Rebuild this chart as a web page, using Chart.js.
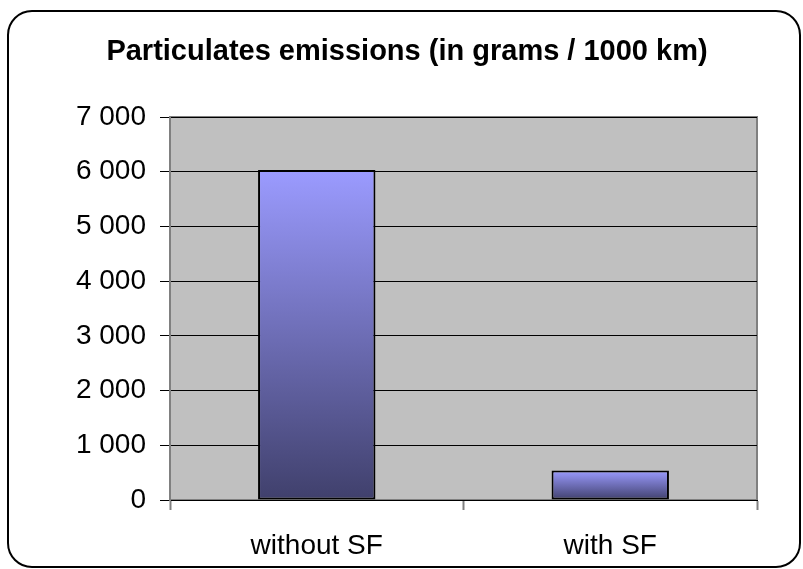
<!DOCTYPE html>
<html>
<head>
<meta charset="utf-8">
<script src="https://cdn.jsdelivr.net/npm/chart.js@4"></script>
<style>
  html, body { margin: 0; padding: 0; background: #fff; }
  #wrap { width: 803px; height: 569px; }
</style>
</head>
<body>
<div id="wrap"><canvas id="chart" width="803" height="569"></canvas></div>
<script>
const categories = ['without SF', 'with SF'];
const emissions = [6030, 540];
const yMin = 0;
const yMax = 7000;
const yStep = 1000;
const titleText = 'Particulates emissions (in grams / 1000 km)';

const fmt = v => String(v).replace(/\B(?=(\d{3})+(?!\d))/g, ' ');

// gray plot background, frame around the whole chart, centred title
const backdrop = {
  id: 'backdrop',
  beforeDraw(chart) {
    const { ctx, chartArea: a } = chart;
    ctx.save();
    ctx.fillStyle = '#C0C0C0';
    ctx.fillRect(a.left, a.top, a.right - a.left, a.bottom - a.top);
    ctx.strokeStyle = '#808080';
    ctx.lineWidth = 2;
    ctx.strokeRect(a.left, a.top, a.right - a.left, a.bottom - a.top);
    ctx.restore();
  },
  afterDraw(chart) {
    const ctx = chart.ctx;
    ctx.save();
    ctx.strokeStyle = '#000';
    ctx.lineWidth = 2;
    ctx.beginPath();
    ctx.roundRect(8, 11, 792, 556, 24);
    ctx.stroke();
    ctx.fillStyle = '#000';
    ctx.font = 'bold 29px "Liberation Sans", Arial, sans-serif';
    ctx.textAlign = 'center';
    ctx.textBaseline = 'alphabetic';
    ctx.fillText(titleText, 407, 60);
    ctx.restore();
  }
};

const ctx = document.getElementById('chart').getContext('2d');
const chart = new Chart(ctx, {
  type: 'bar',
  data: {
    labels: categories,
    datasets: [{
      data: emissions,
      backgroundColor(c) {
        const ch = c.chart;
        const y = ch.scales && ch.scales.y;
        if (!ch.chartArea || !y || c.parsed === undefined) return '#9999FF';
        const top = y.getPixelForValue(c.parsed.y);
        const base = y.getPixelForValue(0);
        const g = ch.ctx.createLinearGradient(0, top, 0, base);
        g.addColorStop(0, '#9B9BFF');
        g.addColorStop(1, '#40406C');
        return g;
      },
      borderColor: '#000',
      borderWidth: 2,
      borderSkipped: false,
      categoryPercentage: 1,
      barPercentage: 0.4
    }]
  },
  options: {
    responsive: false,
    animation: false,
    layout: { padding: { left: 0, right: 46, top: 117, bottom: 0 } },
    plugins: {
      legend: { display: false },
      tooltip: { enabled: false },
      title: { display: false }
    },
    scales: {
      x: {
        offset: true,
        grid: { offset: true, drawOnChartArea: false, drawTicks: true, tickLength: 10, color: '#808080', tickWidth: 2 },
        border: { color: '#000', width: 1 },
        ticks: {
          color: '#000',
          padding: 19,
          font: { family: 'Liberation Sans, Arial, sans-serif', size: 28 }
        },
        afterFit(s) { s.height = 69; }
      },
      y: {
        min: yMin,
        max: yMax,
        grid: { color: '#000', lineWidth: 1, tickLength: 10, tickColor: '#000' },
        border: { color: '#808080', width: 2 },
        ticks: {
          stepSize: yStep,
          color: '#000',
          padding: 14,
          font: { family: 'Liberation Sans, Arial, sans-serif', size: 28 },
          callback: v => fmt(v)
        },
        afterFit(s) { s.width = 170; }
      }
    }
  },
  plugins: [backdrop]
});
</script>
</body>
</html>
